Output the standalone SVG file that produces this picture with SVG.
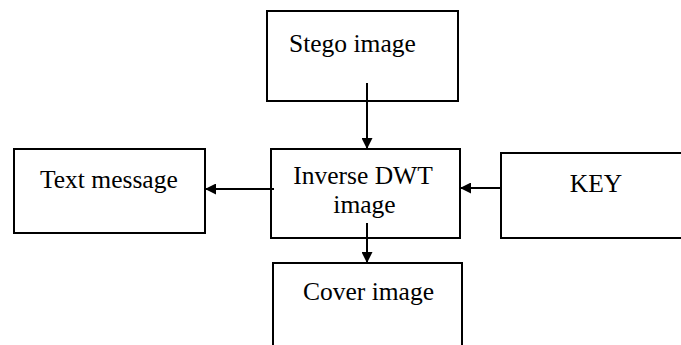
<svg xmlns="http://www.w3.org/2000/svg" width="681" height="345" viewBox="0 0 681 345">
<defs>
<marker id="ah" viewBox="0 0 10 10" refX="10" refY="5" markerWidth="11" markerHeight="11" markerUnits="userSpaceOnUse" orient="auto">
<path d="M0,0 L10,5 L0,10 Z" fill="#000"/>
</marker>
</defs>
<style>
.b{fill:#fff;stroke:#000;stroke-width:2}
.t{font-family:"Liberation Serif","DejaVu Serif",serif;font-size:25.5px;fill:#000}
.c{stroke:#000;stroke-width:2;fill:none;marker-end:url(#ah)}
</style>
<rect width="681" height="345" fill="#fff"/>
<g id="stego"><rect class="b" x="267" y="11" width="191" height="90"/><text class="t" x="289" y="52">Stego image</text></g>
<g id="text"><rect class="b" x="14" y="149" width="191" height="84"/><text class="t" x="40" y="188">Text message</text></g>
<g id="idwt"><rect class="b" x="271" y="149" width="189" height="89"/><text class="t" x="363" y="184" text-anchor="middle">Inverse DWT</text><text class="t" x="364.5" y="213" text-anchor="middle">image</text></g>
<g id="key"><rect class="b" x="501" y="153" width="190" height="85"/><text class="t" x="596" y="192" text-anchor="middle">KEY</text></g>
<g id="cover"><rect class="b" x="273" y="263" width="189" height="95"/><text class="t" x="368.5" y="300" text-anchor="middle">Cover image</text></g>
<g id="connectors">
<path class="c" d="M367,83 V149"/>
<path class="c" d="M274,189 H205"/>
<path class="c" d="M501,188 H460"/>
<path class="c" d="M367,223 V263"/>
</g>
</svg>
